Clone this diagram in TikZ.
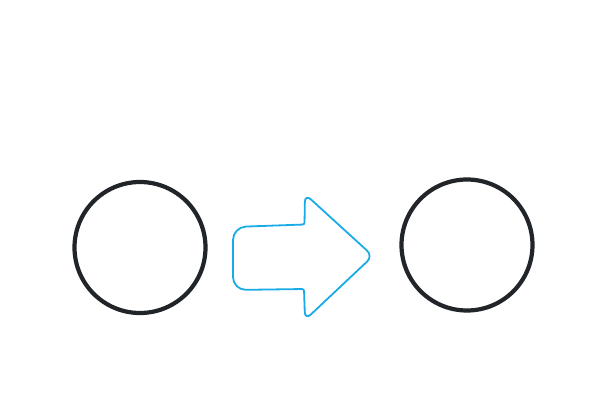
\documentclass[tikz,border=0pt]{standalone}
\usetikzlibrary{calc}
\begin{document}
\begin{tikzpicture}[x=1pt,y=-1pt,
  ring/.style={circle, draw=ringcol, line width=4.2pt, minimum size=131pt, inner sep=0pt},
  arrowline/.style={draw=arrowcol, line width=1.8pt, line join=round}]
\definecolor{ringcol}{HTML}{212529}
\definecolor{arrowcol}{HTML}{1AABE6}
\useasboundingbox (0,0) rectangle (600,400);
\node[ring] (left) at (140,247.5) {};
\node[ring] (right) at (467,245) {};
\coordinate (bl1) at (233,227);
\coordinate (br1) at (304.5,224.5);
\coordinate (ht) at (305,194);
\coordinate (tip) at (373,256);
\coordinate (hb) at (305,320);
\coordinate (br2) at (304,289);
\coordinate (bl2) at (233,290);
\draw[arrowline]
  ($(bl1)!0.5!(br1)$)
  [rounded corners=2pt] -- (br1)
  [rounded corners=8pt] -- (ht)
  [rounded corners=8pt] -- (tip)
  [rounded corners=8pt] -- (hb)
  [rounded corners=2pt] -- (br2)
  [rounded corners=13pt] -- (bl2)
  [rounded corners=13pt] -- (bl1)
  [rounded corners=0pt] -- cycle;
\end{tikzpicture}
\end{document}
